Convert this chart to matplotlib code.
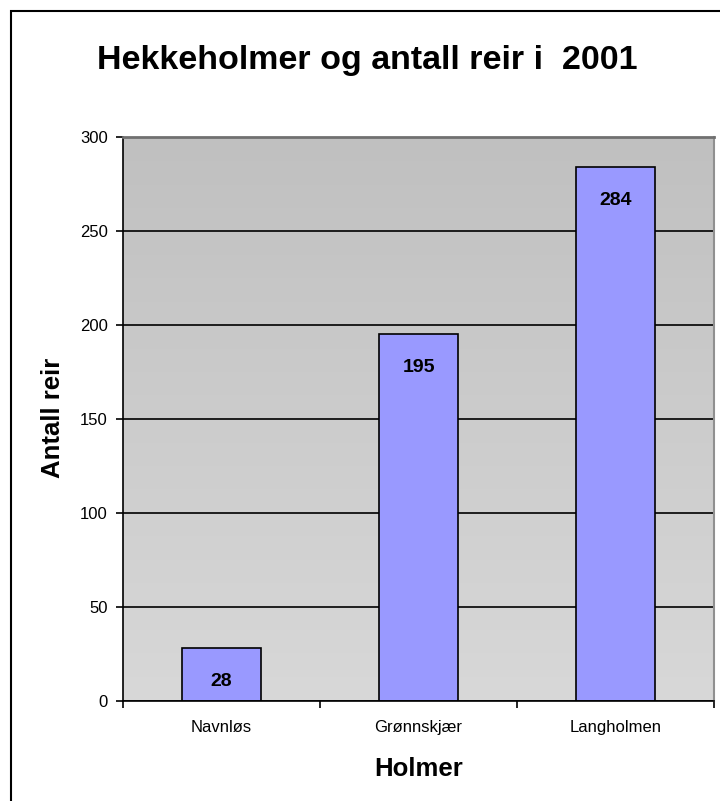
import matplotlib
matplotlib.use("Agg")
import matplotlib.pyplot as plt
import numpy as np
from matplotlib.patches import Rectangle
from matplotlib.colors import LinearSegmentedColormap

categories = ["Navnløs", "Grønnskjær", "Langholmen"]
values = [28, 195, 284]
yticks = [0, 50, 100, 150, 200, 250, 300]
title = "Hekkeholmer og antall reir i  2001"
xlabel = "Holmer"
ylabel = "Antall reir"

plt.rcParams['font.family'] = ['Liberation Sans', 'DejaVu Sans']

fig = plt.figure(figsize=(7.2, 8.01), dpi=100)
W, H = 720, 801
ax = fig.add_axes([123 / W, 1 - 701 / H, (714 - 123) / W, (701 - 137) / H])

# gradient background (darker at top, lighter at bottom)
grad = np.linspace(0, 1, 256).reshape(-1, 1)
cmap = LinearSegmentedColormap.from_list("g", ["#C0C0C0", "#D8D8D8"])
ax.imshow(grad, aspect="auto", cmap=cmap, extent=[0, 1, 0, 1], origin="upper",
          transform=ax.transAxes, zorder=0)

x = np.arange(len(categories))
ax.set_xlim(-0.5, len(categories) - 0.5)
ax.set_ylim(0, 300)
ax.yaxis.grid(True, color="black", linewidth=1.2, zorder=1)
ax.set_axisbelow(True)
ax.bar(x, values, width=0.406, color="#9999FF", edgecolor="black",
       linewidth=1.2, zorder=2)
for xi, v in zip(x, values):
    ax.annotate(str(v), (xi, v), xytext=(0, -33), textcoords="offset pixels",
                ha="center", va="center", fontsize=14, fontweight="bold", zorder=3)

ax.set_yticks(yticks)
ax.tick_params(axis="y", labelsize=12, length=5, width=1.2, pad=6, direction="out")
ax.set_xticks(np.arange(len(categories) + 1) - 0.5, minor=False)
ax.set_xticklabels([""] * (len(categories) + 1))
ax.tick_params(axis="x", length=5, width=1.2, direction="out")
ax.set_xticks(x, minor=True)
ax.set_xticklabels(categories, minor=True)
ax.tick_params(axis="x", which="minor", length=0, labelsize=12, pad=14)

for s in ["left", "bottom"]:
    ax.spines[s].set_color("black")
    ax.spines[s].set_linewidth(1.2)
ax.spines["top"].set_color("#707070")
ax.spines["top"].set_linewidth(2)
ax.spines["right"].set_color("#909090")
ax.spines["right"].set_linewidth(1.5)

fig.text(367 / W, 1 - 60 / H, title, ha="center", va="center",
         fontsize=24.5, fontweight="bold")
fig.text(419 / W, 1 - 769 / H, xlabel, ha="center", va="center",
         fontsize=18.5, fontweight="bold")
fig.text(53 / W, 1 - 418 / H, ylabel, ha="center", va="center",
         fontsize=18.5, fontweight="bold", rotation=90)

fig.patches.append(Rectangle((11 / W, -0.1), 1.0, 1.1 - 11 / H,
                             transform=fig.transFigure, fill=False,
                             edgecolor="black", linewidth=1.5))

fig.savefig("out.png", dpi=100)
